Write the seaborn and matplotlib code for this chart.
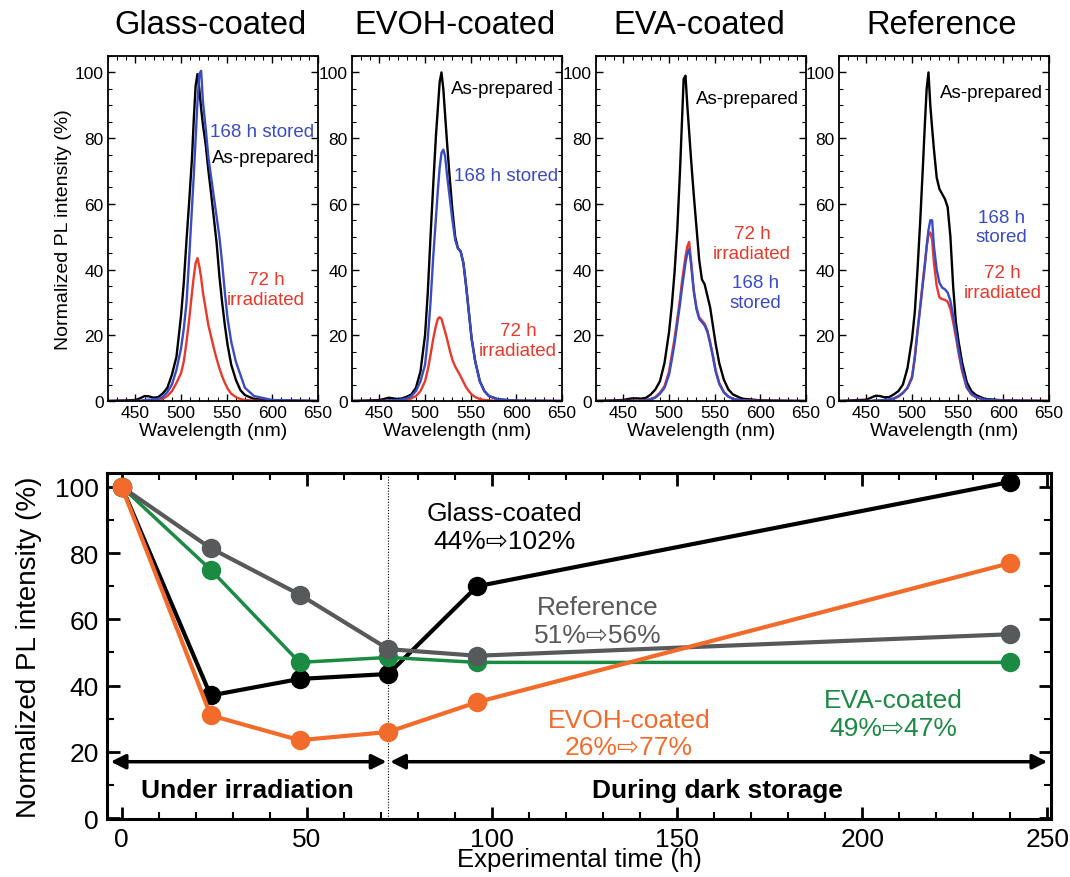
import numpy as np
import pandas as pd
import seaborn as sns
import matplotlib.pyplot as plt
from matplotlib.ticker import MultipleLocator

sns.set_style("ticks")
plt.rcParams['font.family'] = ['Liberation Sans', 'DejaVu Sans']
plt.rcParams.update({'text.color': 'k', 'axes.labelcolor': 'k', 'axes.edgecolor': 'k',
                     'xtick.color': 'k', 'ytick.color': 'k'})

# ---- PL spectra ----
WL = [420, 450, 455, 460, 465, 470, 475, 480, 485, 490, 495, 500, 503, 506, 509, 512, 514, 516, 518,
      520, 522, 524, 527, 530, 533, 536, 539, 542, 545, 548, 551, 555, 560, 565, 570, 580, 600, 650]

glass_asprep = [0, 0.3, 0.8, 1.5, 1.4, 1.0, 1.2, 2.3, 4, 8, 13.5, 26, 36, 49, 61, 74, 86, 96, 99.5,
                95, 89, 84, 78, 70, 63, 55.5, 48, 38, 30, 23, 17, 11, 6.5, 3.3, 1.8, 0.6, 0.2, 0]
glass_irr = [0, 0, 0, 0, 0, 0.1, 0.3, 0.7, 1.5, 3, 5.5, 8.5, 12, 18, 25, 33, 38, 42, 43.5,
             41, 37.5, 33, 28, 23, 19.5, 16, 12.8, 10, 7.5, 5.5, 3.8, 2.2, 1.2, 0.6, 0.3, 0.1, 0, 0]
glass_stored = [0, 0, 0, 0.3, 0.4, 0.5, 0.7, 1.2, 2.7, 5, 9.5, 16, 22, 30, 44, 59, 69, 80, 91,
                99.5, 100.5, 91, 83, 74, 68, 62, 56, 50, 42, 33, 25, 18, 12, 8, 4, 1.5, 0.3, 0]

evoh_asprep = [0, 0.3, 0.6, 1.0, 0.8, 0.6, 0.8, 1.3, 2, 4, 9, 20, 33, 50, 66, 81, 89, 97, 100,
               95, 87, 79, 68, 58, 50, 46.5, 45.5, 42, 35, 27, 19, 12, 6, 3, 1.5, 0.5, 0.1, 0]
evoh_irr = [0, 0, 0, 0, 0, 0.1, 0.2, 0.3, 0.8, 1.5, 3, 6, 9.5, 14, 19, 23, 25, 25.5, 25,
            23, 21, 19, 15.5, 12.5, 10.5, 9, 7.5, 5.8, 4.2, 3, 2, 1.2, 0.6, 0.3, 0.2, 0, 0, 0]
evoh_stored = [0, 0, 0, 0.2, 0.2, 0.3, 0.5, 0.8, 1.5, 3, 6, 11, 19, 30, 44, 56, 64, 71, 75.5,
               76.5, 74.5, 69, 62, 55, 49, 46.5, 45.5, 42, 35, 27, 19, 12, 6, 3, 1.5, 0.5, 0.1, 0]

eva_asprep = [0, 0.3, 0.6, 0.8, 0.8, 0.7, 1.0, 2, 3.5, 6, 11.5, 21, 29, 39, 52, 70, 84, 98, 99,
              90, 82, 74, 63, 53, 43, 37, 35.5, 32, 28.5, 23, 17.5, 11.5, 6.5, 3.5, 2, 0.7, 0.2, 0]
eva_irr = [0, 0, 0, 0, 0, 0.1, 0.3, 0.6, 1.2, 2.5, 4.5, 9, 14, 19, 25, 31, 36, 40, 44,
           47, 48.4, 43, 34, 28.5, 25.5, 24.5, 23.5, 21.5, 18, 14, 9.5, 5.5, 2.8, 1.4, 0.7, 0.2, 0, 0]
eva_stored = [0, 0, 0, 0, 0, 0.1, 0.2, 0.5, 1.0, 2.2, 4, 8, 12.5, 17.5, 23.5, 29.5, 34, 38, 42,
              45, 46.2, 42, 33.5, 28, 25, 24, 23, 21, 17.5, 13.5, 9, 5.2, 2.6, 1.3, 0.6, 0.2, 0, 0]

ref_asprep = [0, 0.4, 1.0, 1.6, 1.5, 1.1, 1.2, 2, 3, 5, 10, 19, 27, 40, 55, 72, 84, 95, 100,
              90, 83, 76.5, 68, 64.5, 63, 61.5, 59, 50, 35, 24, 18, 11.5, 5.7, 3, 1.8, 0.6, 0.2, 0]
ref_irr = [0, 0, 0, 0.1, 0.1, 0.2, 0.4, 0.7, 1.3, 2.4, 4, 7.5, 13.5, 21.5, 29, 37, 42, 47, 50.5,
           51.3, 49, 42, 35, 31.5, 31, 30.8, 30.2, 28, 24, 19.5, 14.5, 8.8, 4, 2, 1.1, 0.3, 0.1, 0]
ref_stored = [0, 0, 0, 0.2, 0.2, 0.3, 0.5, 0.8, 1.5, 2.5, 4, 7, 13, 21, 28.5, 36, 41, 47, 52,
              55, 55, 47, 40, 36, 34.5, 34, 33, 30.5, 26, 21, 15.5, 9.5, 4.2, 2.2, 1.2, 0.4, 0.1, 0]

titles = ['Glass-coated', 'EVOH-coated', 'EVA-coated', 'Reference']
spectra = [(glass_asprep, glass_irr, glass_stored),
           (evoh_asprep, evoh_irr, evoh_stored),
           (eva_asprep, eva_irr, eva_stored),
           (ref_asprep, ref_irr, ref_stored)]

# ---- PL intensity vs time ----
TIME = [0, 24, 48, 72, 96, 240]
glass_t = [100, 37, 42, 43.5, 70, 101.5]
evoh_t = [100, 31, 23.5, 26, 35, 77]
eva_t = [100, 75, 47, 48.5, 47, 47]
ref_t = [100, 81.5, 67.5, 51, 49, 55.5]

BLUE = '#3a4cc4'
RED = '#e8392b'
ORANGE = '#f26b2a'
GREEN = '#1b8a43'
GRAY = '#58595b'

W, H = 1070, 878
fig = plt.figure(figsize=(W / 100, H / 100), dpi=100)

def px_axes(left, top, right, bottom):
    return fig.add_axes([left / W, 1 - bottom / H, (right - left) / W, (bottom - top) / H])

# label positions per panel: (text, x, y, color)
labels = [
    [('168 h stored', 589, 82, BLUE), ('As-prepared', 590, 74, 'k'),
     ('72 h\nirradiated', 593, 34, RED)],
    [('As-prepared', 585, 95, 'k'), ('168 h stored', 589, 68.5, BLUE),
     ('72 h\nirradiated', 602, 18.5, RED)],
    [('As-prepared', 586, 92, 'k'), ('72 h\nirradiated', 591, 48, RED),
     ('168 h\nstored', 595, 33, BLUE)],
    [('As-prepared', 587, 94, 'k'), ('168 h\nstored', 598, 53, BLUE),
     ('72 h\nirradiated', 599, 36, RED)],
]

lefts = [108, 352, 596, 839]
for i, left in enumerate(lefts):
    ax = px_axes(left, 57, left + 210, 402)
    asprep, irr, stored = spectra[i]
    sns.lineplot(x=WL, y=asprep, ax=ax, color='k', lw=1.7)
    sns.lineplot(x=WL, y=irr, ax=ax, color=RED, lw=1.7)
    sns.lineplot(x=WL, y=stored, ax=ax, color=BLUE, lw=1.7)
    ax.set_xlim(420, 650)
    ax.set_ylim(0, 105)
    ax.xaxis.set_major_locator(MultipleLocator(50))
    ax.xaxis.set_minor_locator(MultipleLocator(10))
    ax.yaxis.set_major_locator(MultipleLocator(20))
    ax.yaxis.set_minor_locator(MultipleLocator(5))
    ax.tick_params(which='both', direction='in', top=True, right=True, labelsize=12.5, pad=3)
    ax.tick_params(which='major', length=5, width=1)
    ax.tick_params(which='minor', length=3, width=0.8)
    for s in ax.spines.values():
        s.set_linewidth(1.3)
    ax.set_xlabel('Wavelength (nm)', fontsize=14, labelpad=1)
    if i == 0:
        ax.set_ylabel('Normalized PL intensity (%)', fontsize=14, labelpad=2)
    for txt, x, y, c in labels[i]:
        ax.text(x, y, txt, color=c, fontsize=13.5, ha='center', va='center')
    fig.text((left + 103) / W, 1 - 25 / H, titles[i], fontsize=23.5, ha='center', va='center')

# ---- bottom panel ----
ax = px_axes(107, 474, 1051, 820)
ax.axvline(72, color='k', lw=0.8, ls=(0, (1, 1.5)), zorder=1)
series = [(glass_t, 'k', 3), (eva_t, GREEN, 2.5), (ref_t, GRAY, 3), (evoh_t, ORANGE, 3)]
for vals, c, lw in series:
    sns.lineplot(x=TIME, y=vals, ax=ax, color=c, lw=lw, marker='o',
                 markersize=14, markeredgewidth=0, zorder=3)
ax.set_xlim(-4, 251)
ax.set_ylim(-0.3, 104.2)
ax.xaxis.set_major_locator(MultipleLocator(50))
ax.xaxis.set_minor_locator(MultipleLocator(10))
ax.yaxis.set_major_locator(MultipleLocator(20))
ax.yaxis.set_minor_locator(MultipleLocator(10))
ax.tick_params(which='both', direction='in', top=True, right=True, labelsize=19)
ax.tick_params(axis='x', pad=6)
ax.tick_params(axis='y', pad=6)
ax.tick_params(which='major', length=9, width=2)
ax.tick_params(which='minor', length=5, width=1.5)
for s in ax.spines.values():
    s.set_linewidth(2.2)
ax.set_xlabel('Experimental time (h)', fontsize=18.5)
ax.xaxis.set_label_coords(0.5, -(848 - 820) / 346)
ax.set_ylabel('Normalized PL intensity (%)', fontsize=20, labelpad=9)

arrow = dict(arrowstyle='<|-|>', lw=2.5, color='k', mutation_scale=22,
             shrinkA=0, shrinkB=0)
ax.annotate('', xy=(71.5, 17), xytext=(-3, 17), arrowprops=arrow)
ax.annotate('', xy=(250, 17), xytext=(72.5, 17), arrowprops=arrow)
ax.text(34, 8.5, 'Under irradiation', fontsize=19, fontweight='bold', ha='center', va='center')
ax.text(161, 8.5, 'During dark storage', fontsize=19, fontweight='bold', ha='center', va='center')

ax.text(103.5, 88, 'Glass-coated\n44%\u21e8102%', color='k', fontsize=19, ha='center', va='center')
ax.text(128.5, 59.5, 'Reference\n51%\u21e856%', color=GRAY, fontsize=19, ha='center', va='center')
ax.text(137, 25.5, 'EVOH-coated\n26%\u21e877%', color=ORANGE, fontsize=19, ha='center', va='center')
ax.text(208.5, 31.5, 'EVA-coated\n49%\u21e847%', color=GREEN, fontsize=19, ha='center', va='center')

fig.savefig('out.png', dpi=100)
